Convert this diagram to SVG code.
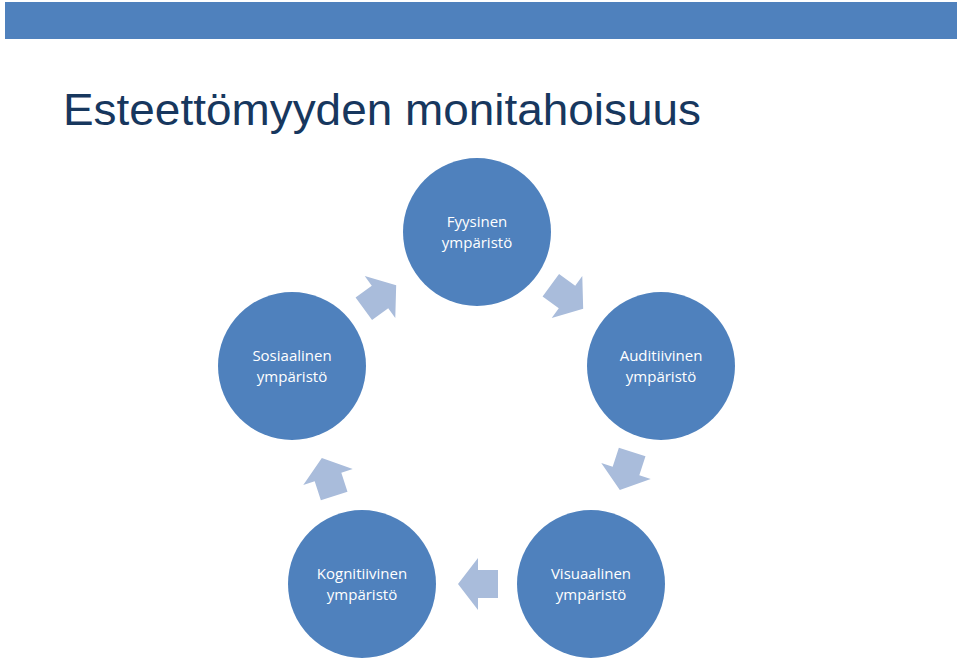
<svg xmlns="http://www.w3.org/2000/svg" width="960" height="661" viewBox="0 0 960 661">
<style>
.n{fill:#4F81BD}
.t{fill:#fff;font-family:"Open Sans","Liberation Sans",sans-serif;font-size:15px;text-anchor:middle}
.a{fill:#A9BCDB}
</style>
<defs><polygon id="arr" points="-20,-14 0,-14 0,-26 20,0 0,26 0,14 -20,14"/></defs>
<rect x="5" y="2" width="952" height="37" fill="#4F81BD"/>
<text x="63" y="125" font-family="'Liberation Sans',sans-serif" font-size="44" fill="#17375E" textLength="638" lengthAdjust="spacingAndGlyphs">Esteettömyyden monitahoisuus</text>
<g id="connectors">
<use href="#arr" class="a" transform="translate(567,297) rotate(36)"/>
<use href="#arr" class="a" transform="translate(626,471) rotate(108)"/>
<use href="#arr" class="a" transform="translate(478,584) rotate(180)"/>
<use href="#arr" class="a" transform="translate(328,477) rotate(252)"/>
<use href="#arr" class="a" transform="translate(380,297) rotate(-36)"/>
</g>
<g id="fyysinen"><circle class="n" cx="477" cy="232" r="74"/><text class="t" x="477" y="227">Fyysinen</text><text class="t" x="477" y="248">ympäristö</text></g>
<g id="auditiivinen"><circle class="n" cx="661" cy="366" r="74"/><text class="t" x="661" y="361">Auditiivinen</text><text class="t" x="661" y="382">ympäristö</text></g>
<g id="visuaalinen"><circle class="n" cx="591" cy="584" r="74"/><text class="t" x="591" y="579">Visuaalinen</text><text class="t" x="591" y="600">ympäristö</text></g>
<g id="kognitiivinen"><circle class="n" cx="362" cy="584" r="74"/><text class="t" x="362" y="579">Kognitiivinen</text><text class="t" x="362" y="600">ympäristö</text></g>
<g id="sosiaalinen"><circle class="n" cx="292" cy="366" r="74"/><text class="t" x="292" y="361">Sosiaalinen</text><text class="t" x="292" y="382">ympäristö</text></g>
</svg>
